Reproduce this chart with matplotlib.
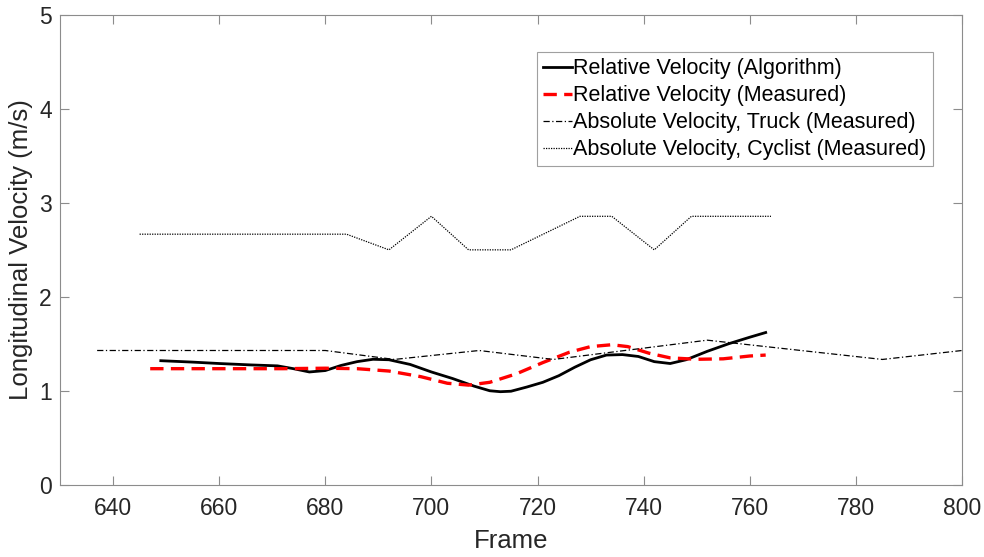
import matplotlib
matplotlib.use("Agg")
import matplotlib.pyplot as plt

# ── Data ──────────────────────────────────────────────────────────────────────
alg_frame = [649, 655, 660, 666, 671, 674, 677, 680, 683, 686, 689, 692, 696,
             700, 704, 708, 711, 713, 715, 718, 721, 724, 727, 730, 733, 736,
             739, 742, 745, 748, 752, 756, 760, 763]
alg_vel = [1.32, 1.305, 1.29, 1.275, 1.265, 1.235, 1.20, 1.215, 1.27, 1.31,
           1.335, 1.33, 1.28, 1.20, 1.13, 1.05, 1.00, 0.99, 0.995, 1.04, 1.09,
           1.16, 1.25, 1.33, 1.38, 1.385, 1.365, 1.31, 1.29, 1.33, 1.42, 1.50,
           1.57, 1.62]

meas_frame = [647, 660, 672, 680, 686, 692, 698, 703, 707, 711, 716, 721, 726,
              730, 734, 737, 741, 745, 750, 755, 760, 763]
meas_vel = [1.235, 1.235, 1.235, 1.24, 1.235, 1.21, 1.15, 1.08, 1.06, 1.09,
            1.18, 1.30, 1.41, 1.47, 1.49, 1.47, 1.40, 1.35, 1.335, 1.34, 1.37,
            1.38]

truck_frame = [637, 680, 693, 709, 723, 752, 785, 800]
truck_vel = [1.4286, 1.4286, 1.3333, 1.4286, 1.3333, 1.5385, 1.3333, 1.4286]

cyc_frame = [645, 684, 692, 700, 707, 715, 728, 734, 742, 749, 764]
cyc_vel = [2.6667, 2.6667, 2.5, 2.8571, 2.5, 2.5, 2.8571, 2.8571, 2.5, 2.8571,
           2.8571]

labels = ["Relative Velocity (Algorithm)", "Relative Velocity (Measured)",
          "Absolute Velocity, Truck (Measured)",
          "Absolute Velocity, Cyclist (Measured)"]

# ── Figure ────────────────────────────────────────────────────────────────────
plt.rcParams["font.family"] = ["Liberation Sans", "DejaVu Sans"]

fig = plt.figure(figsize=(9.84, 5.57), dpi=100)
ax = fig.add_axes([60 / 984, 1 - 484.7 / 557, 902 / 984, 469.7 / 557])

ax.plot(alg_frame, alg_vel, color="black", lw=2.0, label=labels[0])
ax.plot(meas_frame, meas_vel, color="red", lw=2.4, dashes=(4, 2.2),
        label=labels[1])
ax.plot(truck_frame, truck_vel, color="black", lw=0.9,
        linestyle=(0, (5, 2, 1, 2)), label=labels[2])
ax.plot(cyc_frame, cyc_vel, color="black", lw=0.9,
        linestyle=(0, (1, 1)), label=labels[3])

ax.set_xlim(630, 800)
ax.set_ylim(0, 5)
ax.set_xticks(range(640, 801, 20))
ax.set_yticks(range(0, 6))

axis_grey = "#8c8c8c"
for sp in ax.spines.values():
    sp.set_color(axis_grey)
    sp.set_linewidth(0.8)
ax.tick_params(direction="in", length=6.5, width=0.8, color=axis_grey,
               labelsize=16.5, labelcolor="#262626", top=True, right=True)
ax.tick_params(axis="x", pad=9)
ax.tick_params(axis="y", pad=6)

ax.set_xlabel("Frame", fontsize=18.5, color="#262626", labelpad=6)
ax.set_ylabel("Longitudinal Velocity (m/s)", fontsize=18.5, color="#262626",
              labelpad=4)

leg = ax.legend(loc="upper left", bbox_to_anchor=(0.529, 0.921),
                fontsize=15.5, handlelength=1.35, handletextpad=0.05,
                labelspacing=0.28, borderpad=0.28, borderaxespad=0,
                fancybox=False, framealpha=1, edgecolor="#a0a0a0")
leg.get_frame().set_linewidth(0.8)

fig.savefig("out.png", dpi=100)
